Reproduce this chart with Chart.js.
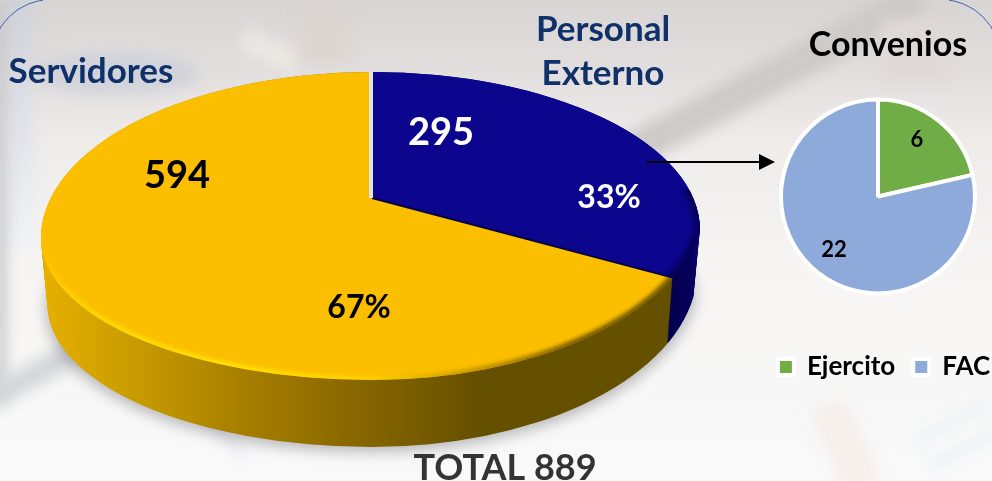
<!DOCTYPE html>
<html>
<head>
<meta charset="utf-8">
<title>Personal</title>
<script src="https://cdn.jsdelivr.net/npm/chart.js@4"></script>
<style>
  html, body { margin: 0; padding: 0; width: 992px; height: 481px; overflow: hidden; background: #f5f4f3; }
  #fondo { position: absolute; left: 0; top: 0; width: 992px; height: 481px; overflow: hidden;
    background: linear-gradient(180deg, #d8d5d4 0, #e2dedd 70px, #eeebe9 140px, #f6f5f3 260px, #f9f9fa 481px); }
  .mancha { position: absolute; filter: blur(7px); }
  #arco1, #arco2 { position: absolute; width: 120px; height: 120px; border: 1px solid #3f62b4; border-radius: 60px; }
  #grafico { position: absolute; left: 0; top: 0; }
  #convenios { position: absolute; left: 748px; top: 48px; }
</style>
</head>
<body>
<div id="fondo">
  <div class="mancha" style="left:8px;top:-10px;width:24px;height:260px;background:linear-gradient(180deg,#cdd0d9,#f0f2f7)"></div>
  <div class="mancha" style="left:-6px;top:0;width:12px;height:400px;background:#c6c6c9"></div>
  <div class="mancha" style="left:600px;top:60px;width:340px;height:34px;background:#cdcac8;transform:rotate(-28deg)"></div>
  <div class="mancha" style="left:240px;top:40px;width:60px;height:22px;background:#ece8e3;transform:rotate(25deg)"></div>
  <div class="mancha" style="left:300px;top:8px;width:50px;height:55px;background:#dcd5d0"></div>
  <div class="mancha" style="left:30px;top:52px;width:170px;height:42px;background:#d0d3da;border-radius:50%"></div>
  <div class="mancha" style="left:-30px;top:362px;width:130px;height:24px;background:#d4d6d8;transform:rotate(-28deg)"></div>
  <div class="mancha" style="left:170px;top:420px;width:90px;height:6px;background:#dfdeeb;transform:rotate(50deg)"></div>
  <div class="mancha" style="left:880px;top:20px;width:70px;height:60px;background:#dfd8d6"></div>
  <div class="mancha" style="left:825px;top:400px;width:40px;height:90px;background:#f6efeb;transform:rotate(-25deg)"></div>
  <div class="mancha" style="left:905px;top:420px;width:90px;height:7px;background:#e8f0f1;transform:rotate(-28deg)"></div>
  <div class="mancha" style="left:925px;top:445px;width:80px;height:7px;background:#e8f0f1;transform:rotate(-28deg)"></div>
  <div id="arco1" style="left:-9px;top:-1px;clip-path:inset(0 70px 90px 0);"></div>
  <div id="arco2" style="left:879px;top:-1px;clip-path:inset(0 0 90px 70px);"></div>
</div>
<canvas id="grafico" width="992" height="481"></canvas>
<canvas id="convenios" width="272" height="342"></canvas>

<script>
// pastel principal
const categorias = ["Personal Externo", "Servidores"];
const personal = [295, 594];
const porcentajes = ["33%", "67%"];
const coloresPersonal = ["#0c068f", "#fcbf00"];

// pastel de convenios
const categoriasConvenios = ["Ejercito", "FAC"];
const convenios = [6, 22];
const coloresConvenios = ["#70ad47", "#8eaadb"];

const fuente = "Lato, Carlito, sans-serif";
const alto = 67;

// contorno de la cara superior, vista en perspectiva
function cara(ctx, dy, k) {
  ctx.beginPath();
  ctx.ellipse(372, 238 + dy, 331 * k, 166, 0, Math.PI, 1.5 * Math.PI);
  ctx.ellipse(372, 230 + dy, 328 * k, 158, 0, 1.5 * Math.PI, 2 * Math.PI);
  ctx.ellipse(372, 202 + dy, 332 * k, 178, 0, 0.158, Math.PI / 2);
  ctx.ellipse(372, 238 + dy, 331 * k, 142, 0, Math.PI / 2, Math.PI);
  ctx.closePath();
}

// lleva el pastel de la libreria al plano inclinado
function perspectiva(ctx, chart, dy) {
  const arco = chart.getDatasetMeta(0).data[0];
  ctx.translate(372, 198 + dy);
  ctx.scale(2, 0.936);
  ctx.translate(-arco.x, -arco.y);
}

function porcion(ctx, chart, i, dy) {
  const a = chart.getDatasetMeta(0).data[i];
  ctx.save();
  perspectiva(ctx, chart, dy);
  ctx.beginPath();
  ctx.moveTo(a.x, a.y);
  ctx.arc(a.x, a.y, a.outerRadius, a.startAngle, a.endAngle);
  ctx.closePath();
  ctx.restore();
}

function texto(ctx, t, x, y, tam, color) {
  ctx.font = "bold " + tam + "px " + fuente;
  ctx.fillStyle = color;
  ctx.textAlign = "center";
  ctx.textBaseline = "middle";
  ctx.fillText(t, x, y);
}

const pared = {
  id: "pared",
  beforeDatasetsDraw(chart) {
    const ctx = chart.ctx;

    ctx.save();
    ctx.filter = "blur(7px)";
    ctx.fillStyle = "rgba(80,80,85,0.38)";
    cara(ctx, alto + 5, 0.985);
    ctx.fill();
    ctx.restore();

    const gris = ctx.createLinearGradient(42, 0, 480, 0);
    gris.addColorStop(0, "#e6b000");
    gris.addColorStop(0.22, "#c79a00");
    gris.addColorStop(0.45, "#a88000");
    gris.addColorStop(0.7, "#8a6800");
    gris.addColorStop(1, "#655000");
    const azul = ctx.createLinearGradient(660, 0, 700, 0);
    azul.addColorStop(0, "#03004a");
    azul.addColorStop(0.8, "#05005a");
    azul.addColorStop(1, "#0a0a7a");

    for (let s = 0; s < 2; s++) {
      for (let i = alto; i >= 0; i--) {
        ctx.save();
        cara(ctx, i, 1 - 0.02 * i / alto);
        ctx.clip();
        porcion(ctx, chart, s, i);
        ctx.fillStyle = s === 0 ? azul : gris;
        ctx.fill();
        ctx.restore();
      }
    }

    ctx.save();
    cara(ctx, 0, 1);
    ctx.clip();
    perspectiva(ctx, chart, 0);
  },
  afterDatasetsDraw(chart) {
    const ctx = chart.ctx;
    ctx.restore();

    // biselado del borde
    const borde = ctx.createLinearGradient(42, 0, 670, 0);
    borde.addColorStop(0, "#fcc000");
    borde.addColorStop(0.06, "#ffd800");
    borde.addColorStop(0.3, "#ffe600");
    borde.addColorStop(0.52, "#ffd000");
    borde.addColorStop(0.68, "#c99800");
    borde.addColorStop(0.85, "#6f5500");
    borde.addColorStop(1, "#6b5200");
    ctx.save();
    cara(ctx, 0, 1);
    ctx.clip();
    porcion(ctx, chart, 1, 0);
    ctx.clip();
    ctx.beginPath();
    ctx.rect(0, 235, 992, 190);
    ctx.clip();
    ctx.filter = "blur(2px)";
    ctx.strokeStyle = borde;
    ctx.lineWidth = 7;
    cara(ctx, 0, 1);
    ctx.stroke();
    ctx.restore();

    // sombra del borde azul
    ctx.save();
    cara(ctx, 0, 1);
    ctx.clip();
    porcion(ctx, chart, 0, 0);
    ctx.clip();
    ctx.beginPath();
    ctx.rect(640, 190, 100, 120);
    ctx.clip();
    ctx.filter = "blur(3px)";
    ctx.strokeStyle = "#03004a";
    ctx.lineWidth = 9;
    cara(ctx, 0, 1);
    ctx.stroke();
    ctx.restore();

    // separacion entre porciones
    const a = chart.getDatasetMeta(0).data[0];
    ctx.save();
    cara(ctx, 0, 1);
    ctx.clip();
    ctx.save();
    perspectiva(ctx, chart, 0);
    ctx.beginPath();
    ctx.moveTo(a.x, a.y);
    ctx.lineTo(a.x + a.outerRadius * Math.cos(a.endAngle), a.y + a.outerRadius * Math.sin(a.endAngle));
    ctx.restore();
    ctx.strokeStyle = "#04004e";
    ctx.lineWidth = 2;
    ctx.stroke();
    ctx.save();
    perspectiva(ctx, chart, 0);
    ctx.beginPath();
    ctx.moveTo(a.x - 0.5, a.y);
    ctx.lineTo(a.x - 0.5, a.y - a.outerRadius);
    ctx.restore();
    ctx.strokeStyle = "#e4e4e6";
    ctx.lineWidth = 4;
    ctx.stroke();
    ctx.restore();

    // flecha hacia convenios
    ctx.strokeStyle = "#000";
    ctx.lineWidth = 2;
    ctx.beginPath();
    ctx.moveTo(647, 162);
    ctx.lineTo(762, 162);
    ctx.stroke();
    ctx.fillStyle = "#000";
    ctx.beginPath();
    ctx.moveTo(775, 162);
    ctx.lineTo(759, 154);
    ctx.lineTo(759, 170);
    ctx.closePath();
    ctx.fill();

    texto(ctx, String(personal[0]), 441, 133, 38, "#fff");
    texto(ctx, porcentajes[0], 609, 198, 32, "#fff");
    texto(ctx, String(personal[1]), 177, 176, 38, "#000");
    texto(ctx, porcentajes[1], 359, 308, 32, "#000");

    texto(ctx, "Servidores", 91, 72, 35, "#10306a");
    texto(ctx, "Personal", 603, 30, 35, "#10306a");
    texto(ctx, "Externo", 603, 74, 35, "#10306a");
    texto(ctx, "Convenios", 888, 45, 34, "#000");
    texto(ctx, "TOTAL 889", 505, 468, 36, "#333");
  }
};

new Chart(document.getElementById("grafico"), {
  type: "pie",
  data: {
    labels: categorias,
    datasets: [{ data: personal, backgroundColor: coloresPersonal, borderWidth: 0 }]
  },
  options: {
    responsive: false,
    animation: false,
    plugins: { legend: { display: false }, tooltip: { enabled: false } }
  },
  plugins: [pared]
});

const etiquetas = {
  id: "etiquetas",
  afterLayout(chart) {
    // el pastel queda a la izquierda del centro de la leyenda y algo mas abajo
    chart.chartArea.right -= 12;
    chart.chartArea.top += 9;
  },
  afterDatasetsDraw(chart) {
    const ctx = chart.ctx;
    texto(ctx, String(convenios[0]), 169, 92, 22, "#000");
    texto(ctx, String(convenios[1]), 86, 202, 22, "#000");
  }
};

new Chart(document.getElementById("convenios"), {
  type: "pie",
  data: {
    labels: categoriasConvenios,
    datasets: [{
      data: convenios,
      backgroundColor: coloresConvenios,
      borderColor: "#fff",
      borderWidth: 4,
      radius: 97
    }]
  },
  options: {
    responsive: false,
    animation: false,
    plugins: {
      tooltip: { enabled: false },
      legend: {
        position: "bottom",
        labels: {
          boxWidth: 16,
          boxHeight: 16,
          color: "#000",
          padding: 18,
          font: { family: fuente, size: 26, weight: "bold" }
        }
      }
    }
  },
  plugins: [etiquetas]
});
</script>
</body>
</html>
